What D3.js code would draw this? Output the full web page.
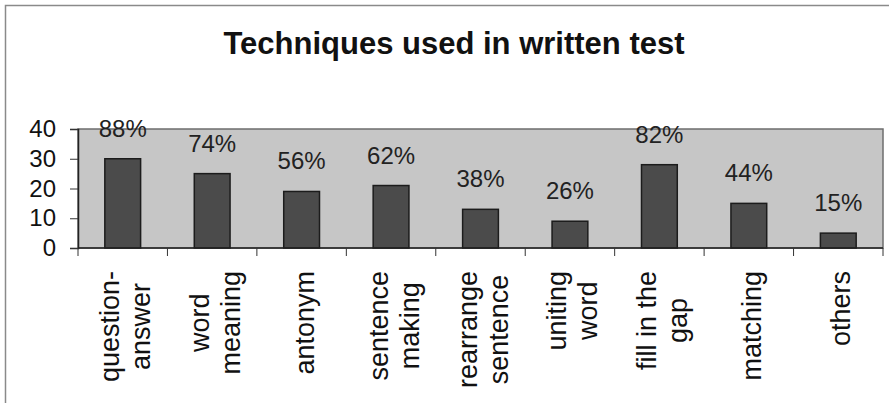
<!DOCTYPE html>
<html>
<head>
<meta charset="utf-8">
<script src="https://cdn.jsdelivr.net/npm/d3@7"></script>
<style>
  body { margin: 0; background: #fff; }
  svg { display: block; font-family: "Liberation Sans", Arial, sans-serif; }
</style>
</head>
<body>
<div id="chart"></div>
<script>
// Data
const categories = [
  ["question-", "answer"],
  ["word", "meaning"],
  ["antonym"],
  ["sentence", "making"],
  ["rearrange", "sentence"],
  ["uniting", "word"],
  ["fill in the", "gap"],
  ["matching"],
  ["others"],
];
const counts = [30, 25, 19, 21, 13, 9, 28, 15, 5];
const percentLabels = ["88%", "74%", "56%", "62%", "38%", "26%", "82%", "44%", "15%"];
const yTicks = [0, 10, 20, 30, 40];
const title = "Techniques used in written test";

const width = 889;
const height = 410;
const margin = { top: 129, right: 6, bottom: 162, left: 78 };

const svg = d3
  .select("#chart")
  .append("svg")
  .attr("width", width)
  .attr("height", height);

// outer frame (top and left edges are what shows in the scan)
svg
  .append("path")
  .attr("d", `M5.5,403 V5.5 H${width}`)
  .attr("fill", "none")
  .attr("stroke", "#8a8a8a")
  .attr("stroke-width", 1.5);

svg
  .append("text")
  .attr("x", 454)
  .attr("y", 54)
  .attr("text-anchor", "middle")
  .attr("font-size", "31px")
  .attr("font-weight", "bold")
  .attr("fill", "#111")
  .text(title);

const x = d3
  .scaleBand()
  .domain(d3.range(categories.length))
  .range([margin.left, width - margin.right])
  .paddingInner(0.6)
  .paddingOuter(0.3);

const y = d3
  .scaleLinear()
  .domain([0, 40])
  .range([height - margin.bottom, margin.top]);

// plot area
svg
  .append("rect")
  .attr("x", margin.left)
  .attr("y", margin.top)
  .attr("width", width - margin.right - margin.left)
  .attr("height", y(0) - margin.top)
  .attr("fill", "#c6c6c6")
  .attr("stroke", "#6e6e6e")
  .attr("stroke-width", 1.5);

svg
  .selectAll(".bar")
  .data(counts)
  .join("rect")
  .attr("class", "bar")
  .attr("x", (d, i) => x(i))
  .attr("y", (d) => y(d))
  .attr("width", x.bandwidth())
  .attr("height", (d) => y(0) - y(d))
  .attr("fill", "#4b4b4b")
  .attr("stroke", "#1c1c1c")
  .attr("stroke-width", 1.5);

svg
  .selectAll(".pct")
  .data(counts)
  .join("text")
  .attr("class", "pct")
  .attr("x", (d, i) => x(i) + x.bandwidth() / 2)
  .attr("y", (d) => y(d) - 22)
  .attr("text-anchor", "middle")
  .attr("font-size", "24px")
  .attr("fill", "#222")
  .text((d, i) => percentLabels[i]);

// y axis
const yAxis = svg
  .append("g")
  .attr("transform", `translate(${margin.left},0)`)
  .call(d3.axisLeft(y).tickValues(yTicks).tickSize(8).tickPadding(14));
yAxis.select(".domain").attr("stroke", "#222").attr("stroke-width", 1.5);
yAxis.selectAll(".tick line").attr("stroke", "#333");
yAxis
  .selectAll(".tick text")
  .attr("font-size", "24px")
  .attr("font-family", "Liberation Sans, Arial, sans-serif")
  .attr("fill", "#111");

// x axis line and tick marks at band edges
const step = x.step();
const edges = d3.range(categories.length + 1).map((i) => margin.left + i * step);
svg
  .append("line")
  .attr("x1", margin.left)
  .attr("x2", width - margin.right)
  .attr("y1", y(0))
  .attr("y2", y(0))
  .attr("stroke", "#222")
  .attr("stroke-width", 1.5);
svg
  .selectAll(".xtick")
  .data(edges)
  .join("line")
  .attr("class", "xtick")
  .attr("x1", (d) => d)
  .attr("x2", (d) => d)
  .attr("y1", y(0))
  .attr("y2", y(0) + 8)
  .attr("stroke", "#333");

// rotated category labels, block end near the axis, lines centred
const lineGap = 31;
categories.forEach((lines, i) => {
  const cx = x(i) + x.bandwidth() / 2;
  const g = svg
    .append("g")
    .attr("transform", `translate(${cx},${y(0) + 23}) rotate(-90)`);
  const texts = lines.map((line, j) =>
    g
      .append("text")
      .attr("y", 12 + (j - (lines.length - 1) / 2) * lineGap)
      .attr("text-anchor", "middle")
      .attr("font-size", "27px")
      .attr("fill", "#111")
      .text(line),
  );
  const maxLen = d3.max(texts, (t) => t.node().getComputedTextLength());
  texts.forEach((t) => t.attr("x", -maxLen / 2));
});
</script>
</body>
</html>
